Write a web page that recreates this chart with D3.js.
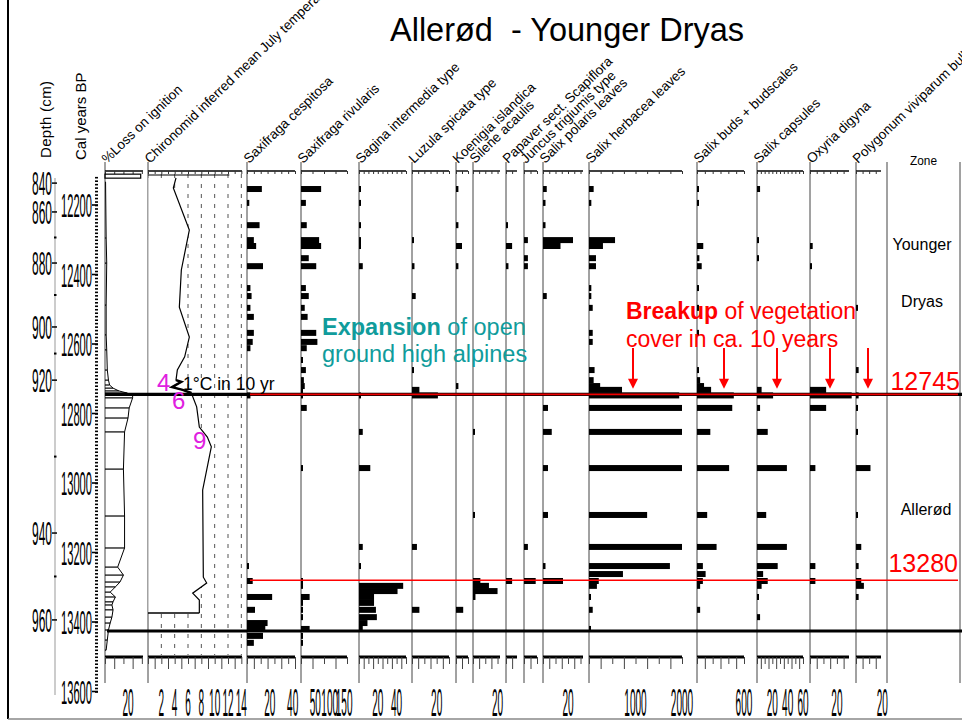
<!DOCTYPE html>
<html>
<head>
<meta charset="utf-8">
<script src="https://cdn.jsdelivr.net/npm/d3@7"></script>
<style>
body{margin:0;background:#fff;}
</style>
</head>
<body>
<div id="plot"></div>
<script>
/* Allerød - Younger Dryas macrofossil diagram */
var W = 962, H = 725;

// age axis (cal yr BP) and depth axis (cm -> age)
var ageLabels = [12200,12400,12600,12800,13000,13200,13400,13600];
var depthTicks = [840,860,880,900,920,940,960];
var depthTickAges = [12137,12220,12367,12551,12704,13144,13394];
var depthMinor = [870,890,910,930,950];

// loss on ignition (%)
var loiAges = [12117,12134,12295,12367,12488,12574,12617,12675,12704,12718,12727,12735,12741,12747,12755,12784,12813,12853,12960,13095,13187,13242,13265,13285,13299,13314,13328,13342,13351,13365,13386,13403,13423,13452,13481];
var loiValues = [31,0.5,1,1.5,1,1,1.5,2,3,4,7,12,19,24,24,21,20,17,16,17,17,11,16,13,9,4.5,9,7,6,7,6,4.5,3,2,1];

// chironomid inferred July temperature (°C)
var chiroAges = [12122,12151,12272,12387,12494,12580,12637,12675,12704,12709,12724,12732,12741,12781,12839,12868,12896,13020,13271,13288,13317,13337,13374];
var chiroTemps = [4.2,3.8,6.2,5.0,4.7,6.2,5.5,4.4,4.2,5.0,3.6,5.2,6.5,7.3,7.7,8.9,9.5,8.2,8.3,8.8,6.7,7.7,7.7];

// macrofossil sample ages
var sampleAges = [12154,12194,12258,12301,12318,12353,12376,12439,12462,12496,12522,12568,12594,12612,12646,12675,12704,12721,12732,12748,12784,12853,12957,13092,13184,13239,13262,13282,13296,13311,13328,13345,13365,13386,13403,13420,13440,13460];

var saxCesp   = [13,2,11,6,8,0,14,3,4,3, 6,6,5,3,0,0,0,0,0,3, 0,0,0,0,0,1,0,5,0,0, 22,0,7,0,18,16,14,6];
var saxRiv    = [70,17,20,63,70,27,53,17,27,13, 23,53,57,20,3,17,10,13,3,5, 20,0,3,0,0,0,0,5,7,0, 30,3,5,5,0,30,5,3];
var sagina    = [1,1,1,1,1,0,4,0,0,0, 0,0,0,0,0,0,0,0,0,2, 0,4,12,0,4,1,0,0,47,41, 16,16,18,19,9,4,0,0];
var luzula    = [0,0,0,1,0,0,2,0,3,0, 0,0,0,0,0,1,0,0,6,21, 0,0,0,0,4,0,0,0,0,0, 0,0,6,0,0,0,0,0];
var koenigia  = [2,0,2,0,5,0,2,0,0,0, 0,0,0,0,0,0,0,2,0,0, 0,0,0,0,0,0,0,0,0,0, 0,0,6,0,0,0,0,0];
var silene    = [0,0,0,0,0,0,0,0,0,0, 0,0,0,0,0,0,0,0,0,0, 0,1,0,1,0,0,0,6,13,20, 2,0,0,0,0,0,0,0];
var papaver   = [0,0,1,0,5,0,2,0,0,0, 0,0,0,0,0,0,0,0,0,0, 0,0,0,0,0,0,0,5,0,0, 0,0,0,0,0,0,0,0];
var juncus    = [0,0,0,3,0,3,3,0,0,0, 0,0,0,0,0,0,0,0,0,0, 0,0,0,0,3,0,0,9,0,0, 0,0,0,0,0,0,0,0];
var salixPol  = [3,2,2,24,14,0,0,0,3,0, 0,0,0,0,0,0,0,0,0,0, 4,7,4,4,0,2,0,16,0,0, 0,0,0,0,0,0,0,0];
var salixHerb = [100,50,0,560,300,150,150,50,50,80, 0,80,80,0,0,120,100,240,710,1940, 2000,2000,2000,1250,2000,1740,730,210,170,0, 40,0,80,0,0,20,0,0];
var salixBuds = [20,20,0,0,80,30,60,20,0,20, 0,20,0,0,0,20,40,90,180,470, 450,170,410,130,250,75,110,75,40,0, 0,0,40,0,0,0,0,0];
var salixCaps = [4,0,0,1,0,1,0,0,0,0, 0,0,0,0,0,0,0,0,6,21, 4,14,39,12,39,27,8,14,6,0, 2,0,0,4,0,0,0,0];
var oxyria    = [0,0,0,0,2,0,1,0,0,0, 0,0,0,0,0,0,0,0,12,31, 12,0,4,0,0,4,0,4,0,0, 0,0,0,0,0,0,0,0];
var polygonum = [0,0,0,0,0,0,0,0,0,1, 0,0,0,0,0,2,0,0,0,2, 1,1,11,1,4,2,0,4,6,0, 2,0,0,0,0,0,0,0];

var panelNames = ['%Loss on ignition','Chironomid inferred mean July temperature','Saxifraga cespitosa','Saxifraga rivularis',
  'Sagina intermedia type','Luzula spicata type','Koenigia islandica','Silene acaulis','Papaver sect. Scapiflora',
  'Juncus trigiumis type','Salix polaris leaves','Salix herbacea leaves','Salix buds + budscales','Salix capsules',
  'Oxyria digyna','Polygonum viviparum bulbils'];
var bottomLabels = [[20],[2,4,6,8,10,12,14],[20,40],[50,100,150],[20,40],[20],[],[20],[],[],[20],[1000,2000],[600],[20,40,60],[20],[20]];
var barSeries = [null,null,saxCesp,saxRiv,sagina,luzula,koenigia,silene,papaver,juncus,salixPol,salixHerb,salixBuds,salixCaps,oxyria,polygonum];

var zoneAges = {yd: 12745, al: 13280, base: 13426};

// layout of the panels (pixels)
var panels = [
  {x0:105,x1:143,max:33,step:8},
  {x0:148,x1:242,max:14.1,step:1},
  {x0:247,x1:295,max:42,step:6},
  {x0:301,x1:347,max:160,step:40},
  {x0:359,x1:406,max:50,step:5},
  {x0:412,x1:449,max:30,step:5},
  {x0:456,x1:468,max:10,step:5},
  {x0:473,x1:500,max:22,step:5},
  {x0:506,x1:517,max:9,step:5},
  {x0:524,x1:537,max:10,step:5},
  {x0:543,x1:583,max:32,step:5},
  {x0:589,x1:682,max:2000,step:250},
  {x0:697,x1:744,max:600,step:100},
  {x0:757,x1:803,max:60,step:5},
  {x0:810,x1:849,max:29,step:5},
  {x0:856,x1:881,max:19,step:5}
];
var TOP = 171, BOT = 657, VTOP = 162, VBOT = 683;

var svg = d3.select('#plot').append('svg')
  .attr('width', W).attr('height', H)
  .style('font-family', 'Arial, "Liberation Sans", sans-serif');

var ageY = d3.scaleLinear().domain([12200, 13600]).range([205, 691.5]);
var depthAge = d3.scaleLinear().domain(depthTicks).range(depthTickAges);

// tall condensed labels
function narrow(g, str, x, y, w, anchor, size) {
  return g.append('text')
    .attr('x', x).attr('y', y)
    .attr('text-anchor', anchor || 'middle')
    .attr('font-size', size || 34)
    .attr('textLength', w)
    .attr('lengthAdjust', 'spacingAndGlyphs')
    .text(str);
}

// frame
svg.append('line').attr('x1',8).attr('x2',8).attr('y1',0).attr('y2',719).attr('stroke','#000').attr('stroke-width',2);
svg.append('line').attr('x1',8).attr('x2',W).attr('y1',719).attr('y2',719).attr('stroke','#888').attr('stroke-width',1.5);

// title
svg.append('text').attr('x',390).attr('y',41).attr('font-size',32.5)
  .style('white-space','pre').text('Allerød  - Younger Dryas');

// left axis titles
svg.append('text').attr('transform','translate(51,158) rotate(-90)').attr('font-size',15)
  .attr('textLength',77).attr('lengthAdjust','spacing').text('Depth (cm)');
svg.append('text').attr('transform','translate(86,160) rotate(-90)').attr('font-size',15)
  .text('Cal years BP');

// depth axis
svg.append('line').attr('x1',55).attr('x2',55).attr('y1',178).attr('y2',695).attr('stroke','#999');
depthTicks.forEach(function(d){
  var y = ageY(depthAge(d));
  svg.append('line').attr('x1',52).attr('x2',57).attr('y1',y).attr('y2',y).attr('stroke','#000').attr('stroke-width',1.5);
  narrow(svg, String(d), 52, y + 12, 20, 'end', 34);
});
depthMinor.forEach(function(d){
  var y = ageY(depthAge(d));
  svg.append('line').attr('x1',54).attr('x2',56.5).attr('y1',y).attr('y2',y).attr('stroke','#000').attr('stroke-width',2);
});

// age axis: dense minor ticks + labelled majors
var ageAxis = svg.append('g').attr('transform','translate(98,0)')
  .call(d3.axisLeft(ageY).tickValues(d3.range(12120, 13601, 10)).tickSize(3).tickFormat(''));
ageAxis.select('.domain').remove();
ageAxis.selectAll('.tick line').attr('stroke','#000').attr('stroke-width',1.6);
ageLabels.forEach(function(a){
  var y = ageY(a);
  svg.append('line').attr('x1',92).attr('x2',98).attr('y1',y).attr('y2',y).attr('stroke','#000').attr('stroke-width',1.6);
  narrow(svg, String(a), 92, y + 12, 31, 'end', 34);
});

// panels: verticals, top and bottom axes, headers, bottom labels
panels.forEach(function(p, i){
  var x = d3.scaleLinear().domain([0, p.max]).range([p.x0, p.x1]);
  p.x = x;
  var ticks = d3.range(0, p.max + 1e-9, p.step);

  svg.append('line').attr('x1',p.x0).attr('x2',p.x0).attr('y1',VTOP).attr('y2',VBOT)
    .attr('stroke','#444').attr('stroke-width',1);

  var ta = svg.append('g').attr('transform','translate(0,'+TOP+')')
    .call(d3.axisBottom(x).tickValues(ticks).tickSize(3).tickFormat(''));
  ta.select('.domain').attr('stroke','#000').attr('stroke-width',1.4).attr('d','M'+p.x0+',0H'+p.x1);
  ta.selectAll('.tick line').attr('stroke','#333');

  var ba = svg.append('g').attr('transform','translate(0,'+BOT+')')
    .call(d3.axisBottom(x).tickValues(ticks).tickSize(7).tickFormat(''));
  ba.select('.domain').attr('stroke','#000').attr('stroke-width',3).attr('d','M'+p.x0+',0H'+p.x1);
  ba.selectAll('.tick line').attr('stroke','#444').attr('y2', function(d, j){ return j % 2 ? 12 : 7; });

  svg.append('text')
    .attr('transform','translate('+(p.x0+2)+',164) rotate(-44)')
    .attr('font-size',13.5)
    .text(panelNames[i]);

  bottomLabels[i].forEach(function(v){
    narrow(svg, String(v), x(v), 716, String(v).length * 5.6, 'middle', 38);
  });
});

// zone column
svg.append('line').attr('x1',887).attr('x2',887).attr('y1',VTOP).attr('y2',VBOT).attr('stroke','#444');
svg.append('line').attr('x1',960).attr('x2',960).attr('y1',VTOP).attr('y2',VBOT).attr('stroke','#444');
svg.append('text').attr('x',923.5).attr('y',165).attr('text-anchor','middle').attr('font-size',12.5)
  .attr('textLength',27).attr('lengthAdjust','spacingAndGlyphs').text('Zone');
svg.append('text').attr('x',922).attr('y',250).attr('text-anchor','middle').attr('font-size',16).text('Younger');
svg.append('text').attr('x',922).attr('y',307).attr('text-anchor','middle').attr('font-size',16).text('Dryas');
svg.append('text').attr('x',926).attr('y',515).attr('text-anchor','middle').attr('font-size',16).text('Allerød');

// loss on ignition
var xl = panels[0].x;
svg.append('rect').attr('x',xl(0)).attr('y',ageY(loiAges[0]) - 2).attr('width',xl(loiValues[0]) - xl(0)).attr('height',4)
  .attr('fill','none').attr('stroke','#000').attr('stroke-width',1.2);
var loiPts = loiAges.slice(1).map(function(a, i){ return [a, loiValues[i + 1]]; });
svg.selectAll('.loi-bar').data(loiPts).enter().append('line')
  .attr('class','loi-bar')
  .attr('x1', xl(0)).attr('x2', function(d){ return xl(d[1]); })
  .attr('y1', function(d){ return ageY(d[0]); }).attr('y2', function(d){ return ageY(d[0]); })
  .attr('stroke','#000').attr('stroke-width',1.2);
svg.append('path').datum(loiPts)
  .attr('d', d3.line().x(function(d){ return xl(d[1]); }).y(function(d){ return ageY(d[0]); }))
  .attr('fill','none').attr('stroke','#000').attr('stroke-width',1);

// chironomid temperature
var xc = panels[1].x;
[2,4,6,8,10,12,14].forEach(function(t){
  svg.append('line').attr('x1',xc(t)).attr('x2',xc(t)).attr('y1',TOP + 3).attr('y2',BOT - 2)
    .attr('stroke','#555').attr('stroke-width',1).attr('stroke-dasharray','4,6');
});
svg.append('line').attr('x1',xc(0)).attr('x2',xc(12.2)).attr('y1',TOP + 4).attr('y2',TOP + 4).attr('stroke','#000').attr('stroke-width',1);
var chiroPts = chiroAges.map(function(a, i){ return [a, chiroTemps[i]]; });
svg.append('path').datum(chiroPts)
  .attr('d', d3.area().y(function(d){ return ageY(d[0]); }).x0(xc(0) + 0.5).x1(function(d){ return xc(d[1]); }))
  .attr('fill','#fff');
svg.append('path').datum(chiroPts)
  .attr('d', d3.line().x(function(d){ return xc(d[1]); }).y(function(d){ return ageY(d[0]); }))
  .attr('fill','none').attr('stroke','#000').attr('stroke-width',1.2);
svg.append('path').datum(chiroPts.filter(function(d){ return d[0] >= 12700 && d[0] <= 12745; }))
  .attr('d', d3.line().x(function(d){ return xc(d[1]); }).y(function(d){ return ageY(d[0]); }))
  .attr('fill','none').attr('stroke','#000').attr('stroke-width',2.4);
var lastC = chiroPts[chiroPts.length - 1];
svg.append('line').attr('x1',xc(0)).attr('x2',xc(lastC[1])).attr('y1',ageY(lastC[0])).attr('y2',ageY(lastC[0]))
  .attr('stroke','#000').attr('stroke-width',1.6);

// macrofossil bars
panels.forEach(function(p, i){
  var vals = barSeries[i];
  if (!vals) return;
  var pts = sampleAges.map(function(a, j){ return {age: a, v: vals[j]}; }).filter(function(d){ return d.v > 0; });
  svg.selectAll('.bar' + i).data(pts).enter().append('rect')
    .attr('class','bar' + i)
    .attr('x', p.x0)
    .attr('y', function(d){ return ageY(d.age) - 3; })
    .attr('width', function(d){ return Math.max(p.x(d.v) - p.x0, 2); })
    .attr('height', 6)
    .attr('fill', '#000');
});

// zone boundaries
svg.append('line').attr('x1',105).attr('x2',962).attr('y1',ageY(zoneAges.yd)).attr('y2',ageY(zoneAges.yd))
  .attr('stroke','#000').attr('stroke-width',3.2);
svg.append('line').attr('x1',250).attr('x2',958).attr('y1',ageY(zoneAges.yd)).attr('y2',ageY(zoneAges.yd))
  .attr('stroke','#e00').attr('stroke-width',1.8);
svg.append('line').attr('x1',250).attr('x2',958).attr('y1',ageY(zoneAges.al)).attr('y2',ageY(zoneAges.al))
  .attr('stroke','#f00').attr('stroke-width',1.4);
svg.append('line').attr('x1',107).attr('x2',962).attr('y1',ageY(zoneAges.base)).attr('y2',ageY(zoneAges.base))
  .attr('stroke','#000').attr('stroke-width',3);

svg.append('text').attr('x',960).attr('y',ageY(zoneAges.yd) - 4).attr('text-anchor','end')
  .attr('font-size',25).attr('fill','#f00').text('12745');
svg.append('text').attr('x',958).attr('y',ageY(zoneAges.al) - 8).attr('text-anchor','end')
  .attr('font-size',25).attr('fill','#f00').text('13280');

// annotations
var teal = '#109c9c';
var t1 = svg.append('text').attr('x',322).attr('y',335).attr('font-size',23.5).attr('fill',teal);
t1.append('tspan').attr('font-weight','bold').text('Expansion');
t1.append('tspan').text(' of open');
svg.append('text').attr('x',322).attr('y',362).attr('font-size',23.5).attr('fill',teal).text('ground high alpines');

var r1 = svg.append('text').attr('x',626).attr('y',319).attr('font-size',23).attr('fill','#f00');
r1.append('tspan').attr('font-weight','bold').text('Breakup');
r1.append('tspan').text(' of vegetation');
svg.append('text').attr('x',626).attr('y',347).attr('font-size',23).attr('fill','#f00').text('cover in ca. 10 years');

var arrowX = [633, 724, 777, 830, 868];
var tipY = ageY(12729);
arrowX.forEach(function(x){
  svg.append('line').attr('x1',x).attr('x2',x).attr('y1',348).attr('y2',tipY - 8).attr('stroke','#f00').attr('stroke-width',2);
  svg.append('path').attr('d','M'+(x-5)+','+(tipY-10)+'L'+(x+5)+','+(tipY-10)+'L'+x+','+tipY+'Z').attr('fill','#f00');
});

var magenta = '#e020e0';
svg.append('text').attr('x',157).attr('y',391).attr('font-size',24).attr('fill',magenta).text('4');
svg.append('text').attr('x',172).attr('y',409).attr('font-size',24).attr('fill',magenta).text('6');
svg.append('text').attr('x',193).attr('y',449).attr('font-size',24).attr('fill',magenta).text('9');
svg.append('text').attr('x',183).attr('y',390).attr('font-size',17.5).attr('fill','#000').text('1°C in 10 yr');
</script>
</body>
</html>
